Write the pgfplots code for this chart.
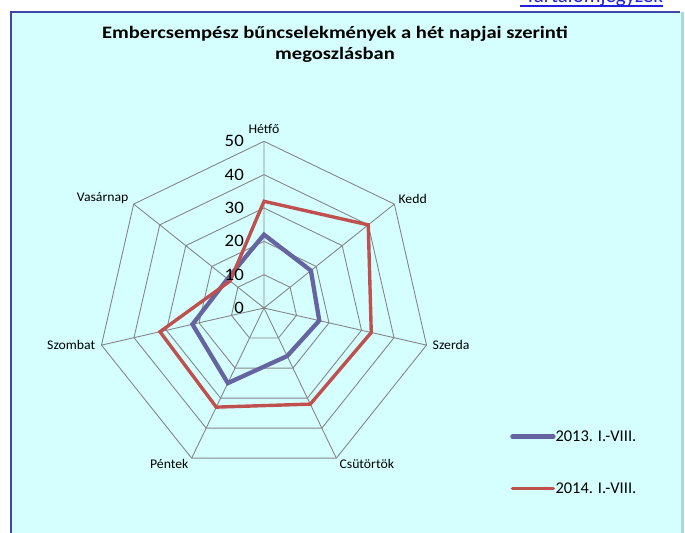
\documentclass[border=0pt]{standalone}
\usepackage{fontspec}
\setmainfont{Carlito}
\newfontfamily\titlefont[FakeStretch=1.18]{Carlito}
\newfontfamily\tickfont[FakeStretch=1.08]{Carlito}
\newfontfamily\labelfont[FakeStretch=1.04]{Carlito}
\usepackage{pgfplots}
\usepackage{pgfplotstable}
\pgfplotsset{compat=1.18}
\usepgfplotslibrary{polar}

\definecolor{bgcyan}{HTML}{D5FFFF}
\definecolor{frameblue}{HTML}{3E47A3}
\definecolor{shadecyan}{HTML}{A9DADA}
\definecolor{gridgray}{HTML}{868686}
\definecolor{serA}{HTML}{6564A0}
\definecolor{serB}{HTML}{C0504D}
\definecolor{linkblue}{HTML}{2020E0}

% days clockwise from the top, angles in degrees
\pgfplotstableread{
ang       y2013 y2014
90        22    32
38.5714   18    40
-12.8571  17    33
-64.2857  16    32
-115.7143 25    33
-167.1429 22    32
-218.5714 14    13
}\days

\begin{document}
\begin{tikzpicture}
\clip (0bp,0bp) rectangle (685bp,-533bp);
\fill[bgcyan] (11bp,-12bp) rectangle (682bp,-545bp);
\draw[frameblue, line width=2bp] (11bp,-545bp) -- (11bp,-12bp) -- (680bp,-12bp);
\draw[shadecyan, line width=3bp] (682bp,-12bp) -- (682bp,-545bp);

% link above the frame, mostly cut off by the page edge
\node[anchor=base east, text=linkblue, font=\fontsize{21}{24}\selectfont, inner sep=0pt]
  at (663bp,-2.5bp) {Tartalomjegyzék};
\draw[linkblue, line width=1.4bp] (520bp,-6bp) -- (663bp,-6bp);

\node[anchor=base, font=\titlefont\bfseries\fontsize{17.5}{20}\selectfont, inner sep=0pt]
  at (335bp,-38.5bp) {Embercsempész bűncselekmények a hét napjai szerinti};
\node[anchor=base, font=\titlefont\bfseries\fontsize{17.5}{20}\selectfont, inner sep=0pt]
  at (335bp,-59bp) {megoszlásban};

\begin{polaraxis}[
  at={(264bp,-308bp)}, anchor=center,
  scale only axis, width=333.4bp, height=333.4bp,
  xmin=0, xmax=360, ymin=0, ymax=50,
  xtick={90,38.5714,347.1429,295.7143,244.2857,192.8571,141.4286},
  xticklabels={}, ytick=\empty,
  xmajorgrids, grid style={gridgray, line width=0.9bp},
  axis line style={draw=none}, major tick length=0pt,
  clip=false,
  legend style={at={(axis description cs:1.238,0.036)}, anchor=west,
    draw=none, fill=none, inner sep=0pt, row sep=40bp,
    font=\fontsize{16.5}{18}\selectfont,
    nodes={inner sep=0pt}},
  legend cell align=left,
  legend image code/.code={\draw[#1, line cap=round] (0bp,0bp) -- (41bp,0bp);},
  /tikz/every even column/.append style={column sep=2bp},
]
\pgfplotsinvokeforeach{10,20,30,40,50}{
  \addplot[gridgray, line width=0.9bp, forget plot] coordinates
    {(90,#1) (38.5714,#1) (-12.8571,#1) (-64.2857,#1) (-115.7143,#1) (-167.1429,#1) (-218.5714,#1)} -- cycle;
}
\addplot[serA, line width=4.3bp, line join=miter] table[x=ang, y=y2013] {\days} -- cycle;
\addlegendentry{2013. I.-VIII.}
\addplot[serB, line width=3.4bp, line join=miter] table[x=ang, y=y2014] {\days} -- cycle;
\addlegendentry{2014. I.-VIII.}

\pgfplotsinvokeforeach{0,10,20,30,40,50}{
  \node[anchor=east, font=\tickfont\fontsize{17.5}{19}\selectfont, inner sep=0pt, xshift=-20bp]
    at (axis cs:90,#1) {#1};
}
\begin{scope}[every node/.style={font=\labelfont\fontsize{13.3}{15}\selectfont, inner sep=0pt}]
\node[anchor=south, yshift=8bp] at (axis cs:90,50) {Hétfő};
\node[anchor=south west, xshift=4bp, yshift=0bp] at (axis cs:38.5714,50) {Kedd};
\node[anchor=west, xshift=6bp] at (axis cs:-12.8571,50) {Szerda};
\node[anchor=north west, xshift=3bp, yshift=-1bp] at (axis cs:-64.2857,50) {Csütörtök};
\node[anchor=north east, xshift=-3bp, yshift=-1bp] at (axis cs:-115.7143,50) {Péntek};
\node[anchor=east, xshift=-6bp] at (axis cs:-167.1429,50) {Szombat};
\node[anchor=south east, xshift=-5bp, yshift=0bp] at (axis cs:-218.5714,50) {Vasárnap};
\end{scope}
\end{polaraxis}
\end{tikzpicture}
\end{document}
